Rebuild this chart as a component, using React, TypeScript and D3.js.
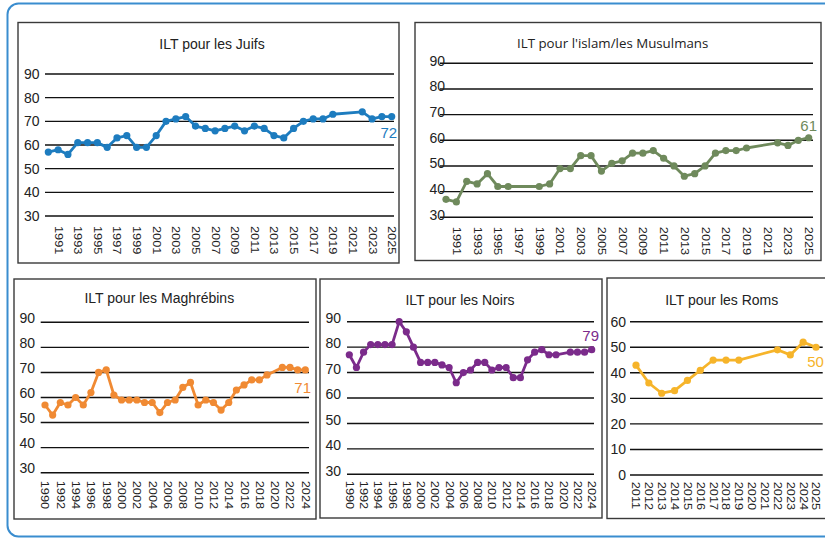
import React from "react";
import * as d3 from "d3";

// ILT panels: years, values, axis labels
const juifsYears = [1990, 1991, 1992, 1993, 1994, 1995, 1996, 1997, 1998, 1999, 2000, 2001, 2002, 2003, 2004, 2005, 2006, 2007, 2008, 2009, 2010, 2011, 2012, 2013, 2014, 2015, 2016, 2017, 2018, 2019, 2022, 2023, 2024, 2025];
const juifsValues = [57, 58, 56, 61, 61, 61, 59, 63, 64, 59, 59, 64, 70, 71, 72, 68, 67, 66, 67, 68, 66, 68, 67, 64, 63, 67, 70, 71, 71, 73, 74, 71, 72, 72];

const musulmansYears = [1990, 1991, 1992, 1993, 1994, 1995, 1996, 1999, 2000, 2001, 2002, 2003, 2004, 2005, 2006, 2007, 2008, 2009, 2010, 2011, 2012, 2013, 2014, 2015, 2016, 2017, 2018, 2019, 2022, 2023, 2024, 2025];
const musulmansValues = [37, 36, 44, 43, 47, 42, 42, 42, 43, 49, 49, 54, 54, 48, 51, 52, 55, 55, 56, 53, 50, 46, 47, 50, 55, 56, 56, 57, 59, 58, 60, 61];

const maghrebinsYears = [1990, 1991, 1992, 1993, 1994, 1995, 1996, 1997, 1998, 1999, 2000, 2001, 2002, 2003, 2004, 2005, 2006, 2007, 2008, 2009, 2010, 2011, 2012, 2013, 2014, 2015, 2016, 2017, 2018, 2019, 2021, 2022, 2023, 2024];
const maghrebinsValues = [57, 53, 58, 57, 60, 57, 62, 70, 71, 61, 59, 59, 59, 58, 58, 54, 58, 59, 64, 66, 57, 59, 58, 55, 58, 63, 65, 67, 67, 69, 72, 72, 71, 71];

const noirsYears = maghrebinsYears;
const noirsValues = [77, 72, 78, 81, 81, 81, 81, 90, 86, 80, 74, 74, 74, 73, 72, 66, 70, 71, 74, 74, 71, 72, 72, 68, 68, 75, 78, 79, 77, 77, 78, 78, 78, 79];

const romsYears = [2011, 2012, 2013, 2014, 2015, 2016, 2017, 2018, 2019, 2022, 2023, 2024, 2025];
const romsValues = [43, 36, 32, 33, 37, 41, 45, 45, 45, 49, 47, 52, 50];

const oddLabels = ["1991", "1993", "1995", "1997", "1999", "2001", "2003", "2005", "2007", "2009", "2011", "2013", "2015", "2017", "2019", "2021", "2023", "2025"];
const evenLabels = ["1990", "1992", "1994", "1996", "1998", "2000", "2002", "2004", "2006", "2008", "2010", "2012", "2014", "2016", "2018", "2020", "2022", "2024"];
const romsLabels = ["2011", "2012", "2013", "2014", "2015", "2016", "2017", "2018", "2019", "2020", "2021", "2022", "2023", "2024", "2025"];

const ticks30to90 = [30, 40, 50, 60, 70, 80, 90];
const ticks0to60 = [0, 10, 20, 30, 40, 50, 60];

const SANS = "'Liberation Sans', Arial, sans-serif";

function Panel(p) {
  const x = d3.scalePoint(p.cats, p.xRange);
  const y = d3.scaleLinear(p.domainY, p.yRange);
  const line = d3
    .line()
    .x((d, i) => x(String(p.years[i])))
    .y((d) => y(d));
  const n = p.values.length;
  const lx = x(String(p.years[n - 1]));
  const ly = y(p.values[n - 1]);

  return (
    <g>
      <rect x={p.box[0]} y={p.box[1]} width={p.box[2]} height={p.box[3]} fill="#fff" stroke="#3a3a3a" strokeWidth={1.4} />
      <text x={p.titleX} y={p.titleY} textAnchor="middle" fontFamily={p.titleFont || SANS} fontSize={p.titleSize || 14} fill="#222">
        {p.title}
      </text>
      {p.ticksY.map((t) => (
        <g key={t}>
          <line x1={p.grid[0]} x2={p.grid[1]} y1={y(t)} y2={y(t)} stroke="#111" strokeWidth={1.4} />
          <text x={p.yLabelX} y={y(t) + p.yLabelDy} textAnchor="end" dy="0.35em" fontFamily={SANS} fontSize={14} fill="#222">
            {t}
          </text>
        </g>
      ))}
      {p.xLabels.map((l) => (
        <text
          key={l}
          transform={`translate(${x(l)},${p.yRange[0] + p.xLabelGap}) rotate(90) scale(1.28,1)`}
          dy="0.35em"
          fontFamily={SANS}
          fontSize={10}
          fill="#222"
        >
          {l}
        </text>
      ))}
      <path d={line(p.values)} fill="none" stroke={p.color} strokeWidth={2.8} strokeLinejoin="round" />
      {p.values.map((v, i) => (
        <circle key={i} cx={x(String(p.years[i]))} cy={y(v)} r={3.6} fill={p.color} />
      ))}
      <text x={lx + p.label[0]} y={ly + p.label[1]} textAnchor={p.label[2]} fontFamily={SANS} fontSize={15} fill={p.color}>
        {p.values[n - 1]}
      </text>
    </g>
  );
}

const yearCats = (from, to) => d3.range(from, to + 1).map(String);

export default function App() {
  return (
    <svg width={825} height={538} style={{ position: "absolute", left: 0, top: 0, background: "#fff" }}>
      <rect x={7.5} y={3.5} width={840} height={533} rx={11} fill="#fff" stroke="#3a8dcf" strokeWidth={2} />
      <Panel
        box={[18, 22.5, 381, 240.5]}
        title="ILT pour les Juifs"
        titleX={212}
        titleY={49}
        grid={[45, 394]}
        xRange={[48.3, 391.7]}
        yRange={[216, 74]}
        domainY={[30, 90]}
        ticksY={ticks30to90}
        yLabelX={39.5}
        yLabelDy={0}
        cats={yearCats(1990, 2025)}
        xLabels={oddLabels}
        xLabelGap={10}
        years={juifsYears}
        values={juifsValues}
        color="#1d7cbf"
        label={[5.5, 21.5, "end"]}
      />
      <Panel
        box={[415, 22.5, 406, 238]}
        title="ILT pour l'islam/les Musulmans"
        titleFont="'Open Sans', sans-serif"
        titleSize={13.3}
        titleX={612.7}
        titleY={48.3}
        grid={[440, 813]}
        xRange={[446, 808.7]}
        yRange={[217.3, 63.3]}
        domainY={[30, 90]}
        ticksY={ticks30to90}
        yLabelX={445}
        yLabelDy={-2.5}
        cats={yearCats(1990, 2025)}
        xLabels={oddLabels}
        xLabelGap={9.5}
        years={musulmansYears}
        values={musulmansValues}
        color="#6f8a5c"
        label={[0, -6.7, "middle"]}
      />
      <Panel
        box={[14, 279, 302, 240]}
        title="ILT pour les Maghrébins"
        titleX={159.3}
        titleY={303.3}
        grid={[40.7, 309]}
        xRange={[45, 305.3]}
        yRange={[472.7, 322.3]}
        domainY={[30, 90]}
        ticksY={ticks30to90}
        yLabelX={35}
        yLabelDy={-4.3}
        cats={yearCats(1990, 2024)}
        xLabels={evenLabels}
        xLabelGap={8}
        years={maghrebinsYears}
        values={maghrebinsValues}
        color="#f08a33"
        label={[5.7, 22.7, "end"]}
      />
      <Panel
        box={[320, 279, 282, 239]}
        title="ILT pour les Noirs"
        titleX={460}
        titleY={305}
        grid={[347, 594]}
        xRange={[349.3, 591.7]}
        yRange={[474.3, 321.7]}
        domainY={[30, 90]}
        ticksY={ticks30to90}
        yLabelX={341}
        yLabelDy={-3.7}
        cats={yearCats(1990, 2024)}
        xLabels={evenLabels}
        xLabelGap={6.5}
        years={noirsYears}
        values={noirsValues}
        color="#7b2b8b"
        label={[-1, -8.6, "middle"]}
      />
      <Panel
        box={[607, 278, 222, 240.5]}
        title="ILT pour les Roms"
        titleX={721.7}
        titleY={305}
        grid={[630, 822.7]}
        xRange={[636, 816]}
        yRange={[475, 321.7]}
        domainY={[0, 60]}
        ticksY={ticks0to60}
        yLabelX={626}
        yLabelDy={0}
        cats={yearCats(2011, 2025)}
        xLabels={romsLabels}
        xLabelGap={6.7}
        years={romsYears}
        values={romsValues}
        color="#f6b42a"
        label={[-0.5, 20, "middle"]}
      />
    </svg>
  );
}
